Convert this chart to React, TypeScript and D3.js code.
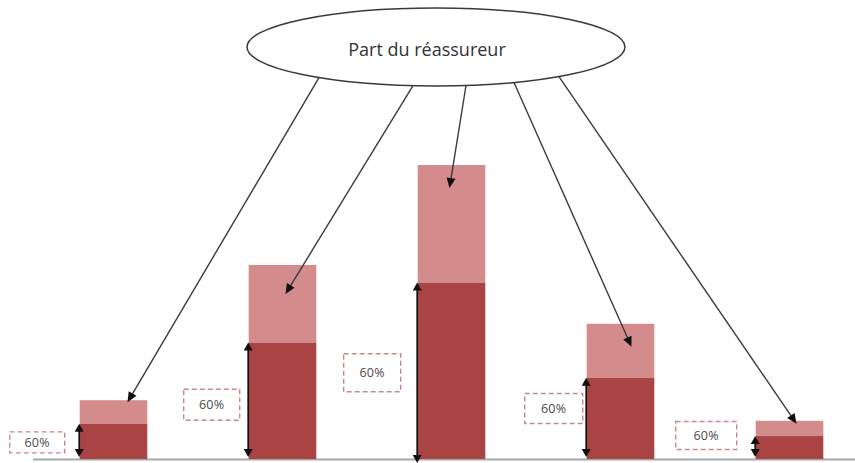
import React from "react";
import * as d3 from "d3";

// Total claim amount per layer (arbitrary units) and the retained share
const categories = ["A", "B", "C", "D", "E"];
const totals = [20, 66, 100, 46, 13];
const retention = [0.6, 0.6, 0.6, 0.6, 0.6];
const retentionLabels = ["60%", "60%", "60%", "60%", "60%"];
const calloutText = "Part du réassureur";

const W = 855;
const H = 463;
const baseY = 459;
const topY = 165;

// Pointer tip offsets inside the ceded (light) segment, relative to bar centre / top
const tipDx = [14, 3, -2, 11, 7];
const tipDy = [2, 29, 23, 23, 3];
// Where the pointer leaves the ellipse (x position on its lower rim)
const startX = [319, 413, 466, 514, 559];
// Label box geometry relative to the bar left edge / retained segment middle
const boxGap = [15, 9, 17, 4, 19];
const boxW = [55, 56, 57, 58, 61];
const boxH = [21, 31, 38, 30, 28];
const boxDy = [1, 4, 2, -10, -12];

const x = d3
  .scaleBand<string>()
  .domain(categories)
  .range([29, 874])
  .paddingInner(0.6)
  .paddingOuter(0.3);

const y = d3.scaleLinear().domain([0, 100]).range([baseY, topY]);

const ell = { cx: 436, cy: 47, rx: 189, ry: 39 };

function arrowHead(tx: number, ty: number, fx: number, fy: number, len = 9, half = 4) {
  const a = Math.atan2(ty - fy, tx - fx);
  const bx = tx - len * Math.cos(a);
  const by = ty - len * Math.sin(a);
  const px = -Math.sin(a) * half;
  const py = Math.cos(a) * half;
  return `M${tx},${ty}L${bx + px},${by + py}L${bx - px},${by - py}Z`;
}

export default function App() {
  const bw = x.bandwidth();
  return (
    <svg
      width={W}
      height={H}
      style={{ position: "absolute", left: 0, top: 0, background: "#fff" }}
      fontFamily="'Open Sans', 'Liberation Sans', sans-serif"
    >
      {/* baseline */}
      <line x1={33} x2={W} y1={baseY + 0.5} y2={baseY + 0.5} stroke="#a8a8a8" strokeWidth={2} />

      {categories.map((c, i) => {
        const x0 = x(c)!;
        const total = totals[i];
        const kept = total * retention[i];
        const yTop = y(total);
        const yKept = y(kept);
        return (
          <g key={c}>
            <rect x={x0} y={yTop} width={bw} height={yKept - yTop} fill="#d48b8b" />
            <rect x={x0} y={yKept} width={bw} height={baseY - yKept} fill="#aa4444" />
          </g>
        );
      })}

      {/* double-headed measure of the retained part */}
      {categories.map((c, i) => {
        const lx = x(c)! - 0.5;
        const y1 = y(totals[i] * retention[i]);
        const y2 = i === 2 ? baseY + 4 : baseY - 2;
        return (
          <g key={"m" + c}>
            <line x1={lx} x2={lx} y1={y1 + 4} y2={y2 - 4} stroke="#111" strokeWidth={1.7} />
            <path d={arrowHead(lx, y1, lx, y1 + 10, 8, 4.5)} fill="#111" />
            <path d={arrowHead(lx, y2, lx, y2 - 10, 8, 4.5)} fill="#111" />
          </g>
        );
      })}

      {/* retention labels */}
      {categories.map((c, i) => {
        const right = x(c)! - boxGap[i];
        const mid = (y(totals[i] * retention[i]) + baseY) / 2 + boxDy[i];
        const w = boxW[i];
        const h = boxH[i];
        return (
          <g key={"l" + c}>
            <rect
              x={right - w}
              y={mid - h / 2}
              width={w}
              height={h}
              fill="#fff"
              stroke="#c48a8a"
              strokeWidth={1.4}
              strokeDasharray="5 3"
            />
            <text
              x={right - w / 2}
              y={mid}
              dy="0.35em"
              textAnchor="middle"
              fontSize={12.5}
              letterSpacing={0.3}
              fill="#4a4a4a"
            >
              {retentionLabels[i]}
            </text>
          </g>
        );
      })}

      {/* pointers from the callout to the ceded part */}
      {categories.map((c, i) => {
        const sx = startX[i];
        const u = (sx - ell.cx) / ell.rx;
        const sy = ell.cy + ell.ry * Math.sqrt(1 - u * u);
        const tx = x(c)! + bw / 2 + tipDx[i];
        const ty = y(totals[i]) + tipDy[i];
        const a = Math.atan2(ty - sy, tx - sx);
        return (
          <g key={"p" + c}>
            <line
              x1={sx}
              y1={sy}
              x2={tx - 6 * Math.cos(a)}
              y2={ty - 6 * Math.sin(a)}
              stroke="#3a3a3a"
              strokeWidth={1.4}
            />
            <path d={arrowHead(tx, ty, sx, sy, 10, 4.5)} fill="#111" />
          </g>
        );
      })}

      {/* callout */}
      <ellipse
        cx={ell.cx}
        cy={ell.cy}
        rx={ell.rx}
        ry={ell.ry}
        fill="#fff"
        stroke="#3a3a3a"
        strokeWidth={1.5}
      />
      <text x={427} y={50} dy="0.35em" textAnchor="middle" fontSize={18} fill="#333">
        {calloutText}
      </text>
    </svg>
  );
}
